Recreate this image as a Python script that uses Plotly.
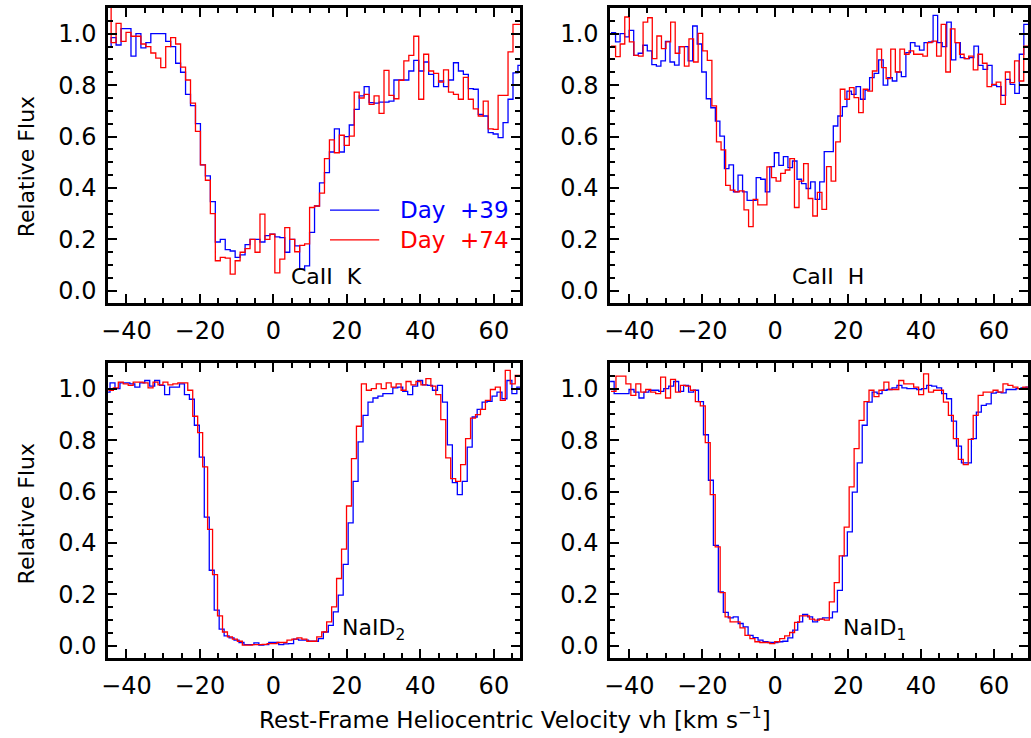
import numpy as np
import plotly.graph_objects as go

# ---------------- data (relative flux, step spectra) ----------------
# velocity grids: start velocity and bin width (km/s) for each series
CAK_V0_39, CAK_V0_74, CAK_DV = -45.5, -45.5, 1.35
CAH_V0_39, CAH_DV_39 = -45.0, 1.2435
CAH_V0_74, CAH_DV_74 = -45.0, 1.257
NAD2_V0_39, NAD2_V0_74, NAD2_DV = -45.8, -44.9, 1.35
NAD1_V0_39, NAD1_V0_74, NAD1_DV = -45.5, -45.0, 1.36

cak_day39 = [0.95, 0.985, 0.956, 1.02, 1.02, 0.913, 1.0, 0.945, 0.965, 1.0,
             1.0, 1.0, 0.97, 0.95, 0.885, 0.85, 0.764, 0.72, 0.65, 0.49,
             0.447, 0.347, 0.19, 0.2, 0.16, 0.155, 0.13, 0.14, 0.18, 0.2,
             0.2, 0.19, 0.215, 0.22, 0.21, 0.207, 0.15, 0.2, 0.175, 0.085,
             0.097, 0.227, 0.33, 0.42, 0.46, 0.54, 0.63, 0.54, 0.6, 0.645,
             0.706, 0.758, 0.794, 0.732, 0.73, 0.734, 0.734, 0.738, 0.82, 0.82,
             0.82, 0.855, 0.896, 0.855, 0.89, 0.842, 0.794, 0.816, 0.794, 0.82,
             0.887, 0.855, 0.842, 0.786, 0.784, 0.686, 0.68, 0.615, 0.61, 0.596,
             0.654, 0.745, 0.848, 0.877, 0.95]
cak_day74 = [1.13, 0.965, 1.04, 0.97, 1.005, 0.99, 0.99, 0.96, 0.95, 0.925,
             0.905, 0.868, 0.95, 0.985, 0.96, 0.87, 0.82, 0.73, 0.62, 0.49,
             0.43, 0.3, 0.117, 0.13, 0.127, 0.065, 0.117, 0.15, 0.164, 0.2,
             0.15, 0.298, 0.2, 0.22, 0.07, 0.123, 0.246, 0.2, 0.152, 0.177,
             0.183, 0.324, 0.33, 0.38, 0.514, 0.587, 0.537, 0.605, 0.566, 0.602,
             0.773, 0.75, 0.764, 0.725, 0.758, 0.69, 0.857, 0.76, 0.747, 0.819,
             0.894, 0.916, 0.99, 0.745, 0.92, 0.855, 0.846, 0.812, 0.859, 0.773,
             0.764, 0.745, 0.83, 0.745, 0.708, 0.68, 0.738, 0.63, 0.628, 0.76,
             0.76, 0.929, 1.036, 1.036, 1.04]

cah_day39 = [1.004, 0.968, 1.0, 0.988, 1.013, 0.916, 0.924, 0.955, 0.933, 0.88,
             0.874, 0.894, 0.97, 0.89, 0.878, 0.95, 0.95, 0.894, 1.03, 0.96,
             0.851, 0.747, 0.712, 0.66, 0.602, 0.475, 0.49, 0.385, 0.45, 0.385,
             0.352, 0.352, 0.44, 0.434, 0.385, 0.483, 0.537, 0.488, 0.522, 0.479,
             0.505, 0.434, 0.417, 0.398, 0.424, 0.356, 0.424, 0.541, 0.541, 0.641,
             0.68, 0.716, 0.777, 0.764, 0.794, 0.745, 0.781, 0.829, 0.846, 0.898,
             0.8, 0.829, 0.816, 0.851, 0.833, 0.926, 0.965, 0.952, 0.936, 0.965,
             0.968, 1.071, 0.965, 0.95, 1.045, 0.898, 0.965, 0.907, 0.903, 0.907,
             0.952, 0.877, 0.861, 0.877, 0.8, 0.794, 0.76, 0.822, 0.803, 0.768,
             0.92, 1.036]
cah_day74 = [0.952, 0.911, 0.96, 1.065, 0.968, 0.916, 0.913, 1.045, 1.062, 0.903,
             0.991, 0.942, 0.968, 1.045, 0.924, 0.95, 0.874, 0.98, 0.89, 1.001,
             0.933, 0.896, 0.719, 0.579, 0.548, 0.41, 0.392, 0.385, 0.389, 0.315,
             0.25, 0.356, 0.334, 0.334, 0.482, 0.44, 0.427, 0.457, 0.47, 0.514,
             0.324, 0.427, 0.495, 0.359, 0.291, 0.383, 0.317, 0.483, 0.427, 0.579,
             0.784, 0.745, 0.79, 0.751, 0.693, 0.784, 0.777, 0.855, 0.94, 0.868,
             0.825, 0.94, 0.851, 0.94, 0.92, 0.933, 0.92, 0.92, 0.913, 0.965,
             0.971, 0.913, 1.036, 0.851, 1.019, 0.965, 0.92, 0.903, 0.913, 0.859,
             0.92, 0.885, 0.794, 0.803, 0.812, 0.725, 0.851, 0.81, 0.894, 0.816,
             0.952]

nad2_day39 = [0.987, 1.023, 1.0, 1.023, 1.023, 1.019, 1.006, 1.023, 1.032, 1.01,
              1.032, 1.013, 0.977, 1.006, 1.006, 1.019, 0.977, 0.959, 0.858, 0.734,
              0.501, 0.294, 0.139, 0.065, 0.039, 0.031, 0.022, 0.013, 0.005, 0.005,
              0.012, 0.003, 0.005, 0.013, 0.013, 0.005, 0.008, 0.009, 0.026, 0.022,
              0.022, 0.018, 0.018, 0.028, 0.054, 0.08, 0.132, 0.197, 0.317, 0.478,
              0.64, 0.793, 0.896, 0.948, 0.964, 0.971, 0.981, 0.981, 1.003, 1.006,
              0.99, 0.977, 1.01, 1.032, 1.015, 1.013, 0.994, 1.013, 0.948, 0.782,
              0.635, 0.588, 0.64, 0.773, 0.89, 0.92, 0.948, 0.951, 0.971, 0.987,
              0.961, 1.032, 0.981, 1.006]
nad2_day74 = [0.994, 1.003, 1.026, 1.019, 1.013, 1.026, 1.026, 1.023, 1.003, 1.026,
              1.015, 1.026, 1.015, 1.019, 1.023, 1.023, 0.994, 0.893, 0.829, 0.696,
              0.453, 0.277, 0.117, 0.054, 0.035, 0.026, 0.018, 0.003, 0.003, 0.005,
              0.005, 0.006, 0.009, 0.009, 0.013, 0.013, 0.022, 0.026, 0.031, 0.026,
              0.018, 0.018, 0.035, 0.054, 0.093, 0.152, 0.262, 0.376, 0.544, 0.728,
              0.854, 1.019, 0.994, 1.0, 1.019, 1.0, 1.023, 1.006, 1.019, 0.994,
              1.028, 1.015, 1.028, 1.015, 1.039, 1.01, 0.977, 0.88, 0.731, 0.65,
              0.64, 0.705, 0.806, 0.886, 0.899, 0.92, 0.955, 0.997, 1.006, 0.955,
              1.071, 1.019, 1.052]

nad1_day39 = [1.028, 0.981, 0.981, 0.981, 0.997, 0.987, 0.964, 0.987, 0.994, 0.994,
              0.99, 1.0, 1.01, 1.028, 0.99, 1.013, 0.987, 0.994, 0.95, 0.821,
              0.644, 0.391, 0.21, 0.13, 0.109, 0.113, 0.087, 0.074, 0.041, 0.032,
              0.022, 0.016, 0.013, 0.013, 0.016, 0.018, 0.031, 0.061, 0.093, 0.122,
              0.113, 0.093, 0.104, 0.109, 0.109, 0.132, 0.216, 0.35, 0.443, 0.598,
              0.712, 0.858, 0.948, 0.987, 0.981, 0.994, 0.997, 1.003, 1.013, 1.003,
              1.0, 1.0, 0.997, 1.0, 1.013, 1.01, 1.003, 0.981, 0.961, 0.874,
              0.777, 0.712, 0.712, 0.806, 0.909, 0.935, 0.941, 0.983, 0.987, 0.984,
              0.997, 0.997, 1.0, 1.003, 1.006]
nad1_day74 = [0.99, 1.049, 1.049, 1.019, 0.974, 1.019, 0.987, 0.997, 0.987, 0.981,
              1.045, 0.964, 1.036, 0.987, 1.013, 1.01, 0.994, 0.95, 0.933, 0.79,
              0.588, 0.385, 0.207, 0.113, 0.093, 0.093, 0.07, 0.041, 0.028, 0.016,
              0.013, 0.013, 0.009, 0.016, 0.028, 0.039, 0.052, 0.091, 0.117, 0.117,
              0.104, 0.1, 0.104, 0.1, 0.171, 0.246, 0.35, 0.462, 0.618, 0.767,
              0.877, 0.95, 0.994, 0.969, 0.994, 1.026, 0.997, 0.997, 1.032, 1.019,
              1.019, 1.006, 0.977, 1.058, 0.987, 0.994, 0.994, 0.948, 0.896, 0.806,
              0.725, 0.705, 0.803, 0.896, 0.974, 0.987, 0.987, 0.994, 0.987, 1.019,
              1.013, 1.006, 1.0, 1.006]

panel_labels = ["CaII\u00a0\u00a0K", "CaII\u00a0\u00a0H", "NaID<sub>2</sub>", "NaID<sub>1</sub>"]
legend_labels = ["Day\u00a0\u00a0+39", "Day\u00a0\u00a0+74"]
x_ticks = [-40, -20, 0, 20, 40, 60]
y_ticks = [0.0, 0.2, 0.4, 0.6, 0.8, 1.0]

# ---------------- figure ----------------
BLUE, RED = "#0000ff", "#ff0000"
FONT = "DejaVu Sans"


def steps(v0, dv, vals):
    vals = np.asarray(vals, dtype=float)
    x = v0 + dv * np.arange(len(vals) + 1)
    y = np.append(vals, vals[-1])
    return x, y


series = [
    # (axis suffix, v0, dv, values, colour)
    ("", CAK_V0_39, CAK_DV, cak_day39, BLUE),
    ("", CAK_V0_74, CAK_DV, cak_day74, RED),
    ("2", CAH_V0_39, CAH_DV_39, cah_day39, BLUE),
    ("2", CAH_V0_74, CAH_DV_74, cah_day74, RED),
    ("3", NAD2_V0_39, NAD2_DV, nad2_day39, BLUE),
    ("3", NAD2_V0_74, NAD2_DV, nad2_day74, RED),
    ("4", NAD1_V0_39, NAD1_DV, nad1_day39, BLUE),
    ("4", NAD1_V0_74, NAD1_DV, nad1_day74, RED),
]

fig = go.Figure()
for ax, v0, dv, vals, col in series:
    x, y = steps(v0, dv, vals)
    fig.add_trace(go.Scatter(
        x=x, y=y, mode="lines", line=dict(color=col, width=1.3, shape="hv"),
        xaxis="x" + ax, yaxis="y" + ax, showlegend=False,
        name=legend_labels[0] if col == BLUE else legend_labels[1]))

W, H = 1031, 738
LEFT_X = [102 / W, 518 / W]
RIGHT_X = [609 / W, 1.0]
TOP_Y = [1 - 304 / H, 1 - 8 / H]
BOT_Y = [1 - 660 / H, 1 - 364 / H]

common = dict(
    showline=True, linecolor="black", linewidth=2.5, mirror="allticks",
    ticks="inside", ticklen=9, tickwidth=2, tickcolor="black",
    showgrid=False, zeroline=False,
    tickfont=dict(family=FONT, size=24, color="black"),
)


def xax(domain, rng, anchor):
    return dict(common, domain=domain, range=rng, anchor=anchor,
                tickvals=x_ticks, ticklabelstandoff=4,
                minor=dict(ticks="inside", ticklen=5, tickwidth=2,
                           tickcolor="black", dtick=5, tick0=0))


def yax(domain, anchor):
    return dict(common, domain=domain, range=[-0.048, 1.1], anchor=anchor,
                tickvals=y_ticks, tickformat=".1f", ticklabelstandoff=4,
                minor=dict(ticks="inside", ticklen=5, tickwidth=2,
                           tickcolor="black", dtick=0.05, tick0=0))


LX = [-45.0, 67.1]
RX = [-45.25, 69.3]
fig.update_layout(
    width=W, height=H,
    margin=dict(l=0, r=0, t=0, b=0),
    paper_bgcolor="white", plot_bgcolor="white",
    font=dict(family=FONT, color="black"),
    xaxis=xax(LEFT_X, LX, "y"), yaxis=yax(TOP_Y, "x"),
    xaxis2=xax(RIGHT_X, RX, "y2"), yaxis2=yax(TOP_Y, "x2"),
    xaxis3=xax(LEFT_X, LX, "y3"), yaxis3=yax(BOT_Y, "x3"),
    xaxis4=xax(RIGHT_X, RX, "y4"), yaxis4=yax(BOT_Y, "x4"),
)

ann = []
# panel labels
for (xr, yr), lab in zip([("x", "y"), ("x2", "y2"), ("x3", "y3"), ("x4", "y4")], panel_labels):
    xpos = 14.5 if "Ca" in lab else 27.2
    ann.append(dict(x=xpos, y=0.0, xref=xr, yref=yr, text=lab, showarrow=False,
                    xanchor="center", yanchor="bottom",
                    font=dict(family=FONT, size=22, color="black")))
# legend (top-left panel)
for lab, col, yv in [(legend_labels[0], BLUE, 0.3135), (legend_labels[1], RED, 0.198)]:
    ann.append(dict(x=34.0, y=yv, xref="x", yref="y", text=lab, showarrow=False,
                    xanchor="left", yanchor="middle",
                    font=dict(family=FONT, size=23, color=col)))
    fig.add_shape(type="line", x0=15.4, x1=28.8, y0=yv, y1=yv, xref="x", yref="y",
                  line=dict(color=col, width=1.3))
# axis titles
for yc in [1 - 167 / H, 1 - 515 / H]:
    ann.append(dict(x=20 / W, y=yc, xref="paper", yref="paper", text="Relative Flux",
                    textangle=-90, showarrow=False, xanchor="center", yanchor="middle",
                    font=dict(family=FONT, size=22, color="black")))
ann.append(dict(x=513 / W, y=1 - 720 / H, xref="paper", yref="paper",
                text="Rest-Frame Heliocentric Velocity vh [km s<sup>\u22121</sup>]",
                showarrow=False, xanchor="center", yanchor="middle",
                font=dict(family=FONT, size=23, color="black")))
fig.update_layout(annotations=ann)

fig.write_html("out.html", config={"displayModeBar": False},
               post_script="document.body.style.margin='0';document.body.style.overflow='hidden';")
